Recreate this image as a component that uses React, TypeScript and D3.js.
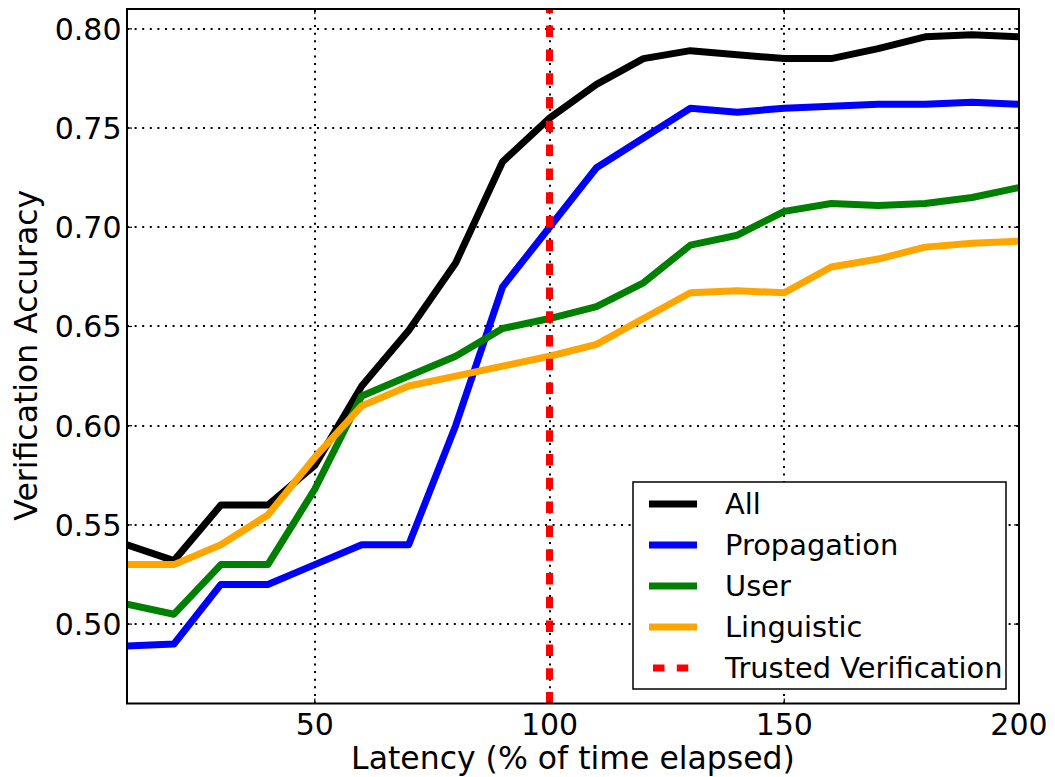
import React from "react";
import * as d3 from "d3";

// Latency checkpoints (% of time elapsed)
const latency = [10, 20, 30, 40, 50, 60, 70, 80, 90, 100, 110, 120, 130, 140, 150, 160, 170, 180, 190, 200];

// Verification accuracy per feature set
const allFeatures = [0.540, 0.532, 0.560, 0.560, 0.580, 0.620, 0.648, 0.682, 0.733, 0.755, 0.772, 0.785, 0.789, 0.787, 0.785, 0.785, 0.790, 0.796, 0.797, 0.796];
const propagation = [0.489, 0.490, 0.520, 0.520, 0.530, 0.540, 0.540, 0.600, 0.670, 0.700, 0.730, 0.745, 0.760, 0.758, 0.760, 0.761, 0.762, 0.762, 0.763, 0.762];
const user = [0.510, 0.505, 0.530, 0.530, 0.568, 0.615, 0.625, 0.635, 0.649, 0.654, 0.660, 0.672, 0.691, 0.696, 0.708, 0.712, 0.711, 0.712, 0.715, 0.720];
const linguistic = [0.530, 0.530, 0.540, 0.555, 0.584, 0.610, 0.620, 0.625, 0.630, 0.635, 0.641, 0.654, 0.667, 0.668, 0.667, 0.680, 0.684, 0.690, 0.692, 0.693];

const trustedVerification = 100;

const xTicks = [50, 100, 150, 200];
const yTicks = [0.5, 0.55, 0.6, 0.65, 0.7, 0.75, 0.8];

const seriesNames = ["All", "Propagation", "User", "Linguistic"];
const seriesColors = ["#000000", "#0000ff", "#008000", "#ffa500"];
const seriesValues = [allFeatures, propagation, user, linguistic];

const W = 1055;
const H = 777;
const M = { left: 127, right: 1019, top: 9, bottom: 703.5 };
const FONT = "DejaVu Sans";

export default function App() {
  const x = d3.scaleLinear().domain([10, 200]).range([M.left, M.right]);
  const y = d3.scaleLinear().domain([0.46, 0.81]).range([M.bottom, M.top]);

  const line = d3
    .line<number>()
    .x((_, i) => x(latency[i]))
    .y((d) => y(d));

  const legendItems = [
    ...seriesNames.map((n, i) => ({ name: n, color: seriesColors[i], dashed: false })),
    { name: "Trusted Verification", color: "#ff0000", dashed: true },
  ];

  const legend = { x0: 633, y0: 482, x1: 1006, y1: 689, row0: 504, step: 41 };

  return (
    <svg
      width={W}
      height={H}
      style={{ position: "absolute", left: 0, top: 0, background: "#fff" }}
      fontFamily={FONT}
    >
      <defs>
        <clipPath id="plot-area">
          <rect x={M.left} y={M.top} width={M.right - M.left} height={M.bottom - M.top} />
        </clipPath>
      </defs>

      {/* dotted grid */}
      <g stroke="#000" strokeWidth={2} strokeDasharray="2,5.6" fill="none">
        {yTicks.map((t) => (
          <line key={"gy" + t} x1={M.left} x2={M.right} y1={Math.round(y(t))} y2={Math.round(y(t))} />
        ))}
        {xTicks.map((t) => (
          <line key={"gx" + t} x1={Math.round(x(t))} x2={Math.round(x(t))} y1={M.bottom} y2={M.top} />
        ))}
      </g>

      {/* series */}
      <g clipPath="url(#plot-area)" fill="none" strokeWidth={7} strokeLinejoin="round">
        {seriesValues.map((vals, i) => (
          <path key={seriesNames[i]} d={line(vals) ?? ""} stroke={seriesColors[i]} />
        ))}
        <line
          x1={x(trustedVerification)}
          x2={x(trustedVerification)}
          y1={M.bottom}
          y2={M.top}
          stroke="#ff0000"
          strokeDasharray="11.5,12.3"
        />
      </g>

      {/* ticks on all four sides */}
      <g stroke="#000" strokeWidth={1.2}>
        {yTicks.map((t) => (
          <g key={"ty" + t}>
            <line x1={M.left} x2={M.left + 5} y1={y(t)} y2={y(t)} />
            <line x1={M.right} x2={M.right - 5} y1={y(t)} y2={y(t)} />
          </g>
        ))}
        {xTicks.map((t) => (
          <g key={"tx" + t}>
            <line x1={x(t)} x2={x(t)} y1={M.bottom} y2={M.bottom - 5} />
            <line x1={x(t)} x2={x(t)} y1={M.top} y2={M.top + 5} />
          </g>
        ))}
      </g>

      {/* frame */}
      <rect
        x={M.left}
        y={M.top}
        width={M.right - M.left}
        height={M.bottom - M.top}
        fill="none"
        stroke="#000"
        strokeWidth={2}
      />

      {/* tick labels */}
      <g fontSize={30} fill="#000">
        {yTicks.map((t) => (
          <text key={"ly" + t} x={121.5} y={y(t) + 10.8} textAnchor="end">
            {d3.format(".2f")(t)}
          </text>
        ))}
        {xTicks.map((t) => (
          <text key={"lx" + t} x={x(t)} y={735} textAnchor="middle">
            {t}
          </text>
        ))}
      </g>

      {/* axis titles */}
      <text x={(M.left + M.right) / 2} y={769} fontSize={31.5} textAnchor="middle">
        Latency (% of time elapsed)
      </text>
      <text
        transform={`translate(37, ${(M.top + M.bottom) / 2 - 1}) rotate(-90)`}
        fontSize={31.5}
        textAnchor="middle"
      >
        Verification Accuracy
      </text>

      {/* legend */}
      <rect
        x={legend.x0}
        y={legend.y0}
        width={legend.x1 - legend.x0}
        height={legend.y1 - legend.y0}
        fill="#fff"
        stroke="#000"
        strokeWidth={1.5}
      />
      {legendItems.map((it, i) => {
        const cy = legend.row0 + i * legend.step;
        return (
          <g key={it.name}>
            <line
              x1={it.dashed ? 653 : 649}
              x2={697}
              y1={cy}
              y2={cy}
              stroke={it.color}
              strokeWidth={7}
              strokeDasharray={it.dashed ? "11.5,12.3" : undefined}
            />
            <text x={725} y={cy + 10} fontSize={28.9}>
              {it.name}
            </text>
          </g>
        );
      })}
    </svg>
  );
}
